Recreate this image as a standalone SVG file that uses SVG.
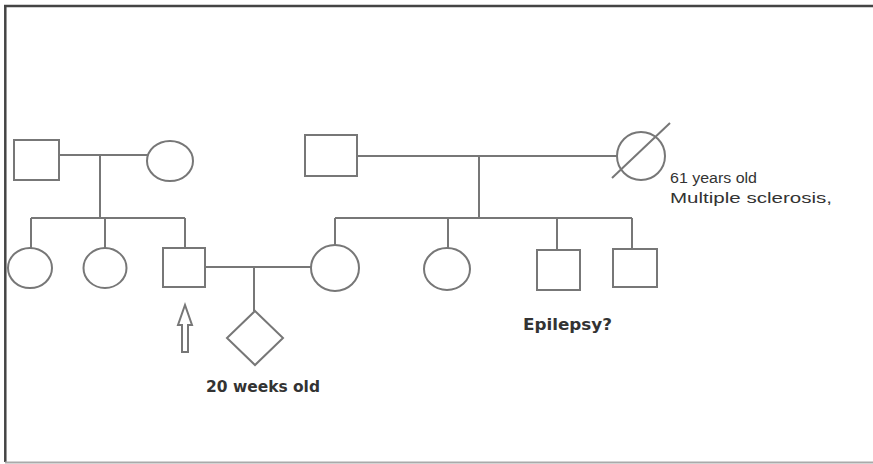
<svg xmlns="http://www.w3.org/2000/svg" width="873" height="464" viewBox="0 0 873 464">
<style>
.n{fill:#fff;stroke:#777;stroke-width:2}
.c{fill:none;stroke:#777;stroke-width:2}
.b{font-family:"DejaVu Sans",sans-serif;font-weight:bold;fill:#333}
.t{font-family:"Liberation Sans",Arial,sans-serif;font-size:14px;fill:#333}
</style>
<rect width="873" height="464" fill="#fff"/>
<g id="frame">
<line x1="4" y1="6" x2="873" y2="6" stroke="#444" stroke-width="2.5"/>
<line x1="5.3" y1="5" x2="5.3" y2="462" stroke="#444" stroke-width="2.5"/>
<line x1="5" y1="462.5" x2="873" y2="462.5" stroke="#aaa" stroke-width="2"/>
</g>
<g id="connectors">
<path class="c" d="M59 155H148M100 155V218M31 218H185M31 218V248M105 218V248M185 218V248"/>
<path class="c" d="M357 156H617M479 156V218M335 218H632M335 218V245M448 218V248M557 218V250M632 218V249"/>
<path class="c" d="M205 267H311M254 267V311"/>
</g>
<g id="gf1"><rect class="n" x="14" y="140" width="45" height="40"/></g>
<g id="gm1"><ellipse class="n" cx="170" cy="161" rx="23" ry="20"/></g>
<g id="gf2"><rect class="n" x="305" y="135" width="52" height="41"/></g>
<g id="gm2"><ellipse class="n" cx="641" cy="156" rx="24" ry="24"/><line class="c" x1="612" y1="178" x2="670" y2="123"/></g>
<g id="d1"><ellipse class="n" cx="30" cy="268" rx="22" ry="20"/></g>
<g id="d2"><ellipse class="n" cx="105" cy="268" rx="21.5" ry="20"/></g>
<g id="proband"><rect class="n" x="163" y="248" width="42" height="39"/></g>
<g id="arrow"><polygon class="n" points="182,352 182,325 178,325 185,305 192,325 188,325 188,352"/></g>
<g id="partner"><ellipse class="n" cx="335" cy="268" rx="24" ry="23"/></g>
<g id="d3"><ellipse class="n" cx="447" cy="269" rx="23" ry="21"/></g>
<g id="s1"><rect class="n" x="537" y="250" width="43" height="40"/></g>
<g id="s2"><rect class="n" x="613" y="249" width="44" height="38"/></g>
<g id="fetus"><polygon class="n" points="255,311 283,338 255,365 227,338"/></g>
<g id="labels">
<text class="b" x="206" y="392" font-size="15.5" textLength="114" lengthAdjust="spacingAndGlyphs">20 weeks old</text>
<text class="b" x="523" y="330" font-size="16" textLength="89" lengthAdjust="spacingAndGlyphs">Epilepsy?</text>
<text class="t" x="670" y="183" textLength="87" lengthAdjust="spacingAndGlyphs">61 years old</text>
<text class="t" x="670" y="203" textLength="162" lengthAdjust="spacingAndGlyphs">Multiple sclerosis,</text>
</g>
</svg>
